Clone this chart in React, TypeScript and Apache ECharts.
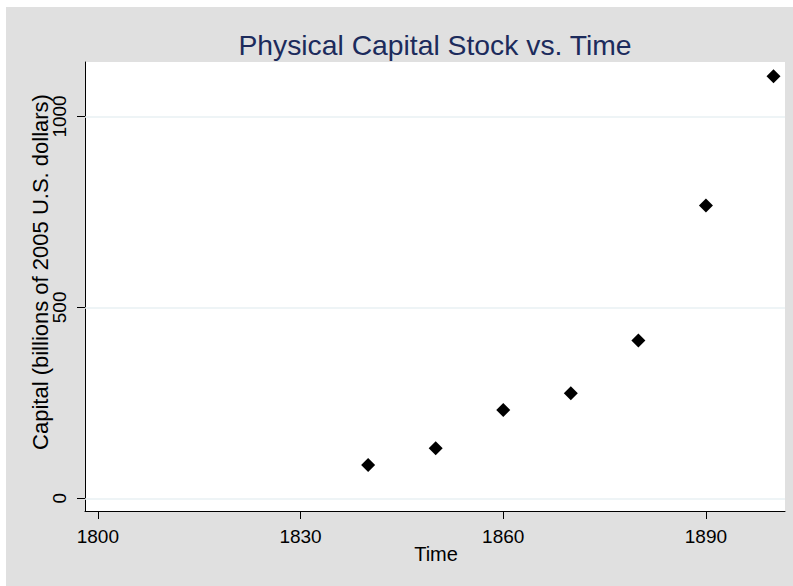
import React, { useEffect, useRef } from "react";
import * as echarts from "echarts";

const years = [1840, 1850, 1860, 1870, 1880, 1890, 1900];
const capital = [87, 131, 231, 275, 413, 767, 1105];
const xTicks = [1800, 1830, 1860, 1890];
const yTicks = [0, 500, 1000];
const titleText = "Physical Capital Stock vs. Time";
const xName = "Time";
const yName = "Capital (billions of 2005 U.S. dollars)";

const FONT = "'Liberation Sans', Arial, sans-serif";

export default function App() {
  const ref = useRef<HTMLDivElement>(null);
  useEffect(() => {
    if (!ref.current) return;
    const chart = echarts.init(ref.current, null, { renderer: "svg" });
    chart.setOption({
      animation: false,
      textStyle: { fontFamily: FONT },
      grid: {
        left: 85,
        top: 62,
        right: 8,
        bottom: 75,
        show: true,
        backgroundColor: "#ffffff",
        borderWidth: 0,
      },
      graphic: [
        {
          type: "text",
          x: 435,
          y: 45,
          style: {
            text: titleText,
            fontSize: 28.3,
            fontFamily: FONT,
            fill: "#1c2b5c",
            align: "center",
            verticalAlign: "middle",
          },
        },
        {
          type: "text",
          x: 40,
          y: 272,
          rotation: Math.PI / 2,
          style: {
            text: yName,
            fontSize: 22,
            fontFamily: FONT,
            fill: "#000000",
            align: "center",
            verticalAlign: "middle",
          },
        },
        {
          type: "text",
          x: 436,
          y: 554,
          style: {
            text: xName,
            fontSize: 20,
            fontFamily: FONT,
            fill: "#000000",
            align: "center",
            verticalAlign: "middle",
          },
        },
      ],
      xAxis: {
        type: "value",
        min: 1798.1,
        max: 1901.7,
        axisLine: { show: true, onZero: false, lineStyle: { color: "#000", width: 1 } },
        axisTick: { show: true, length: 8, customValues: xTicks, lineStyle: { color: "#000" } },
        axisLabel: {
          show: true,
          customValues: xTicks,
          formatter: (v: number) => String(v),
          fontSize: 19,
          color: "#000",
          margin: 16,
          fontFamily: FONT,
        },
        splitLine: { show: false },
      },
      yAxis: {
        type: "value",
        min: -33.3,
        max: 1142.6,
        axisLine: { show: true, onZero: false, lineStyle: { color: "#000", width: 1 } },
        axisTick: { show: true, length: 8, customValues: yTicks, lineStyle: { color: "#000" } },
        axisLabel: {
          show: true,
          customValues: yTicks,
          formatter: (v: number) => String(v),
          rotate: 90,
          fontSize: 19,
          color: "#000",
          margin: 16,
          fontFamily: FONT,
        },
        splitLine: { show: false },
      },
      series: [
        {
          type: "scatter",
          data: years.map((y, i) => [y, capital[i]]),
          symbol: "diamond",
          symbolSize: 14,
          itemStyle: { color: "#000000", opacity: 1 },
          markLine: {
            silent: true,
            symbol: ["none", "none"],
            label: { show: false },
            lineStyle: { color: "#E8F0F3", width: 1.5, type: "solid", opacity: 1 },
            data: yTicks.map((v) => ({ yAxis: v })),
            z: 1,
          },
        },
      ],
    });
    return () => chart.dispose();
  }, []);
  return (
    <div style={{ position: "fixed", left: 0, top: 0, width: 793, height: 586, background: "#ffffff" }}>
      <div style={{ position: "absolute", left: 6, top: 7, width: 787, height: 579, background: "#E0E0E0" }} />
      <div ref={ref} style={{ position: "absolute", left: 0, top: 0, width: 793, height: 586 }} />
    </div>
  );
}
